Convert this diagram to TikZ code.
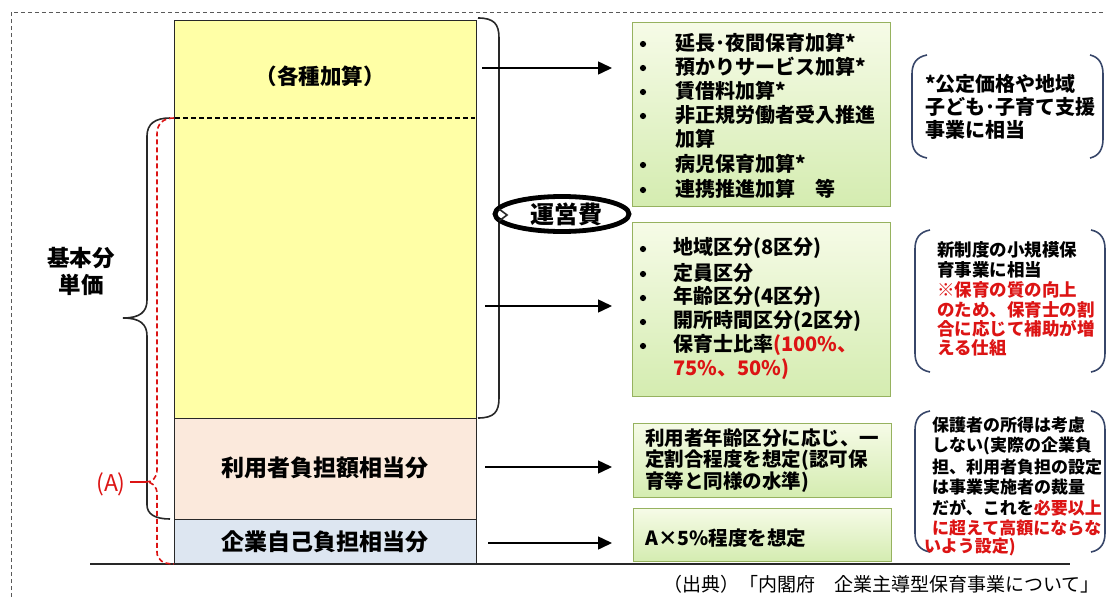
\documentclass[tikz,border=0pt]{standalone}
\usepackage{fontspec}
\setmainfont{Noto Sans CJK JP}
\usetikzlibrary{arrows.meta,shapes.geometric}
\definecolor{yel}{RGB}{255,255,166}
\definecolor{peach}{RGB}{251,233,220}
\definecolor{pblue}{RGB}{221,230,241}
\definecolor{gtop}{RGB}{246,251,231}
\definecolor{gbot}{RGB}{212,236,176}
\definecolor{gedge}{RGB}{150,178,95}
\definecolor{nred}{RGB}{220,20,20}
\definecolor{brk}{RGB}{55,70,105}
\definecolor{dk}{RGB}{40,40,40}
\tikzset{
  sec/.style={draw=dk, line width=1.4pt, anchor=north west, inner sep=0, minimum width=302pt},
  gbox/.style={draw=gedge, line width=1.4pt, top color=gtop, bottom color=gbot, anchor=north west, inner sep=0, minimum width=258pt},
  bt/.style={inner sep=0, anchor=west, font=\fontsize{20}{24}\selectfont\bfseries},
  bul/.style={circle, fill=black, inner sep=0, minimum size=6.2pt},
  nt/.style={inner sep=0, anchor=west, font=\fontsize{17.5}{20}\selectfont\bfseries},
  lbl/.style={inner sep=0, font=\fontsize{23}{27}\selectfont\bfseries},
  brace/.style={draw=dk, line width=1.6pt},
  notebr/.style={draw=brk, line width=1.6pt},
  arr/.style={draw=black, line width=1.5pt, -{Triangle[length=14pt,width=13pt]}}
}
\begin{document}
\begin{tikzpicture}[x=1pt,y=-1pt]
\useasboundingbox (0,0) rectangle (1106,597);
% outer dashed frame
\draw[gray!70!black, line width=0.8pt, dash pattern=on 4pt off 3pt] (11,597) -- (11,12) -- (1106,12);
% main column
\node[sec, fill=yel, minimum height=398pt] (kihon) at (174,20) {};
\node[sec, fill=peach, minimum height=101pt] (riyo) at (174,418) {};
\node[sec, fill=pblue, minimum height=45pt] (kigyo) at (174,519) {};
\draw[black, line width=1.2pt, dash pattern=on 5pt off 3pt] (175,118) -- (475,118);
\node[inner sep=0, font=\fontsize{21.5}{24}\selectfont\bfseries] (kasan) at (320,76) {（各種加算）};
\node[lbl] (riyot) at (325,468) {利用者負担額相当分};
\node[lbl] (kigyot) at (325,542) {企業自己負担相当分};
% baseline
\draw[dk, line width=1.5pt] (90,564) -- (1070,564);
% left brace
\draw[brace] (170,118) .. controls (155,118) and (147,124) .. (147,136) -- (147,300) .. controls (147,312) and (140,318) .. (123,318) .. controls (140,318) and (147,324) .. (147,336) -- (147,505) .. controls (147,514) and (155,519) .. (170,519);
\node[lbl, align=center, font=\fontsize{22.5}{27}\selectfont\bfseries] (kihont) at (81,271) {基本分\\単価};
% red dashed (A)
\draw[nred, line width=1.6pt, dash pattern=on 5pt off 3pt] (174,118) .. controls (163,118) and (157,124) .. (157,134) -- (157,470) .. controls (157,478) and (152,482) .. (146,482) .. controls (152,482) and (157,486) .. (157,494) -- (157,552) .. controls (157,560) and (163,564) .. (174,564);
\node[inner sep=0, text=nred, font=\fontsize{23}{26}\selectfont] (A) at (111,484) {(A)};
\coordinate (Atip) at (146,482);
\draw[nred, line width=1.3pt] (A.east) ++(4,-2) -- (Atip);
% right brace
\draw[brace] (478,18) .. controls (494,18) and (499,24) .. (499,38) -- (499,398) .. controls (499,412) and (494,418) .. (478,418);
\node[ellipse, draw=black, line width=4.8pt, fill=white, minimum width=134pt, minimum height=35pt, inner sep=0, font=\fontsize{24}{26}\selectfont\bfseries] (unei) at (562,214) {\hspace*{8pt}運営費};
\draw[brace] (499,209) -- (507,215) -- (499,221);
% arrows
\coordinate (s1) at (482,68);
\coordinate (s2) at (485,306);
\coordinate (s3) at (485,467);
\coordinate (s4) at (488,543);
\coordinate (e1) at (612,68);
\coordinate (e2) at (612,306);
\coordinate (e3) at (612,467);
\coordinate (e4) at (612,543);
\draw[arr] (s1) -- (e1);
\draw[arr] (s2) -- (e2);
\draw[arr] (s3) -- (e3);
\draw[arr] (s4) -- (e4);
% green boxes
\node[gbox, minimum height=184pt] (g1) at (632,22) {};
\node[gbox, minimum height=174pt] (g2) at (632,222) {};
\node[gbox, minimum height=74pt] (g3) at (633,423) {};
\node[gbox, minimum height=53pt] (g4) at (633,508) {};
% box1 text
\node[bul] (b11) at (643,44) {};
\node[bul] (b12) at (643,68) {};
\node[bul] (b13) at (643,92) {};
\node[bul] (b14) at (643,116) {};
\node[bul] (b16) at (643,165) {};
\node[bul] (b17) at (643,190) {};
\node[bt] (t11) at (675,43) {延長･夜間保育加算*};
\node[bt] (t12) at (675,67) {預かりサービス加算*};
\node[bt] (t13) at (675,91) {賃借料加算*};
\node[bt] (t14) at (675,115) {非正規労働者受入推進};
\node[bt] (t15) at (675,139) {加算};
\node[bt] (t16) at (675,164) {病児保育加算*};
\node[bt] (t17) at (675,189) {連携推進加算　等};
% box2 text
\node[bul] (b21) at (643,249) {};
\node[bul] (b22) at (643,274) {};
\node[bul] (b23) at (643,298) {};
\node[bul] (b24) at (643,322) {};
\node[bul] (b25) at (643,346) {};
\node[bt] (t21) at (673,248) {地域区分(8区分)};
\node[bt] (t22) at (673,273) {定員区分};
\node[bt] (t23) at (673,297) {年齢区分(4区分)};
\node[bt] (t24) at (673,321) {開所時間区分(2区分)};
\node[bt] (t25) at (673,345) {保育士比率\textcolor{nred}{(100\%、}};
\node[bt, text=nred] (t26) at (673,369) {75\%、50\%)};
% box3/4 text
\node[bt, font=\fontsize{19.5}{22}\selectfont\bfseries] (t31) at (645,438) {利用者年齢区分に応じ、一};
\node[bt, font=\fontsize{19.5}{22}\selectfont\bfseries] (t32) at (645,460) {定割合程度を想定(認可保};
\node[bt, font=\fontsize{19.5}{22}\selectfont\bfseries] (t33) at (645,482) {育等と同様の水準)};
\node[bt, font=\fontsize{19.5}{22}\selectfont\bfseries] (t41) at (645,538) {A×5\%程度を想定};
% note 1
\draw[notebr] (927,55) .. controls (916,57) and (912,64) .. (912,74) -- (912,139) .. controls (912,149) and (916,156) .. (927,158);
\draw[notebr] (1090,55) .. controls (1099,57) and (1103,64) .. (1103,74) -- (1103,139) .. controls (1103,149) and (1099,156) .. (1090,158);
\node[nt, font=\fontsize{20}{22}\selectfont\bfseries] (n11) at (925,84) {*公定価格や地域};
\node[nt, font=\fontsize{20}{22}\selectfont\bfseries] (n12) at (925,107) {子ども･子育て支援};
\node[nt, font=\fontsize{20}{22}\selectfont\bfseries] (n13) at (925,130) {事業に相当};
% note 2
\draw[notebr] (930,230) .. controls (919,232) and (915,239) .. (915,249) -- (915,353) .. controls (915,363) and (919,370) .. (930,372);
\draw[notebr] (1091,230) .. controls (1101,232) and (1105,239) .. (1105,249) -- (1105,353) .. controls (1105,363) and (1101,370) .. (1091,372);
\node[nt] (n21) at (937,250) {新制度の小規模保};
\node[nt] (n22) at (937,270) {育事業に相当};
\node[nt, text=nred] (n23) at (937,290) {※保育の質の向上};
\node[nt, text=nred] (n24) at (937,310) {のため、保育士の割};
\node[nt, text=nred] (n25) at (937,329) {合に応じて補助が増};
\node[nt, text=nred] (n26) at (937,348) {える仕組};
% note 3
\draw[notebr] (930,411) .. controls (919,413) and (915,420) .. (915,430) -- (915,533) .. controls (915,543) and (919,550) .. (930,552);
\draw[notebr] (1091,411) .. controls (1101,413) and (1105,420) .. (1105,430) -- (1105,533) .. controls (1105,543) and (1101,550) .. (1091,552);
\node[nt, font=\fontsize{17}{20}\selectfont\bfseries] (n31) at (932,425) {保護者の所得は考慮};
\node[nt, font=\fontsize{17}{20}\selectfont\bfseries] (n32) at (932,446) {しない(実際の企業負};
\node[nt, font=\fontsize{17}{20}\selectfont\bfseries] (n33) at (932,467) {担、利用者負担の設定};
\node[nt, font=\fontsize{17}{20}\selectfont\bfseries] (n34) at (932,487) {は事業実施者の裁量};
\node[nt, font=\fontsize{17}{20}\selectfont\bfseries] (n35) at (932,508) {だが、これを\textcolor{nred}{必要以上}};
\node[nt, font=\fontsize{17}{20}\selectfont\bfseries, text=nred] (n36) at (932,528) {に超えて高額にならな};
\node[nt, font=\fontsize{17}{20}\selectfont\bfseries, text=nred] (n37) at (924,547) {いよう設定)};
% citation
\node[inner sep=0, anchor=east, font=\fontsize{19}{21}\selectfont] (src) at (1100,584) {（出典）「内閣府　企業主導型保育事業について」};
\end{tikzpicture}
\end{document}
